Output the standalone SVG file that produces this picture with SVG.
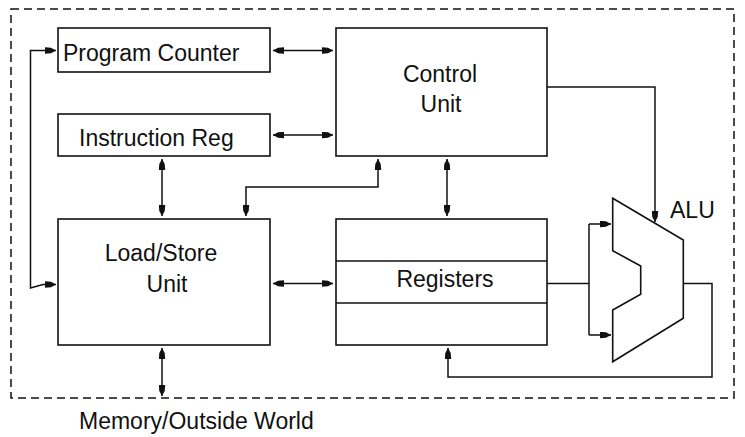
<svg xmlns="http://www.w3.org/2000/svg" width="745" height="437" viewBox="0 0 745 437">
<style>
.box{fill:#fff;stroke:#111;stroke-width:1.6}
.ln{fill:none;stroke:#111;stroke-width:1.5}
.bi{marker-start:url(#ah);marker-end:url(#ah)}
.one{marker-end:url(#ah)}
text{font-family:"Liberation Sans",Arial,sans-serif;font-size:23px;fill:#111}
.c{text-anchor:middle}
</style>
<defs>
<marker id="ah" markerUnits="userSpaceOnUse" viewBox="0 0 11 7" markerWidth="11" markerHeight="7" refX="11" refY="3.5" orient="auto-start-reverse">
<path d="M0,0.3 L6,0.8 L11,3.5 L6,6.2 L0,6.7 z" fill="#111"/>
</marker>
</defs>
<rect x="0" y="0" width="745" height="437" fill="#fff"/>
<rect id="boundary" x="11" y="9" width="723" height="389" fill="none" stroke="#111" stroke-width="1.5" stroke-dasharray="8,5"/>
<g id="connectors">
<path class="ln bi" d="M273,50.5 H333"/>
<path class="ln bi" d="M273,135 H333"/>
<path class="ln bi" d="M162,159 V216"/>
<path class="ln bi" d="M447,159 V216"/>
<path class="ln bi" d="M246,216 V187 H378 V159"/>
<path class="ln bi" d="M56,284.5 H43 L30.5,288 V50.5 H56"/>
<path class="ln bi" d="M273,283.5 H333"/>
<path class="ln bi" d="M162,348 V396"/>
<path class="ln" d="M547,283.5 H589 M589,224 V335"/>
<path class="ln one" d="M589,224 H611"/>
<path class="ln one" d="M589,335 H611"/>
<path class="ln one" d="M547,87 H655 V222"/>
<path class="ln one" d="M683,283.5 H712 V377 H448 V348"/>
</g>
<g id="program-counter">
<rect class="box" x="58" y="28" width="212" height="44"/>
<text x="63" y="61">Program Counter</text>
</g>
<g id="instruction-reg">
<rect class="box" x="58" y="114" width="212" height="42"/>
<text x="79" y="146">Instruction Reg</text>
</g>
<g id="control-unit">
<rect class="box" x="336" y="28" width="211" height="128"/>
<text class="c" x="440" y="82">Control</text>
<text class="c" x="441" y="112">Unit</text>
</g>
<g id="load-store-unit">
<rect class="box" x="58" y="219" width="212" height="126"/>
<text class="c" x="161" y="261">Load/Store</text>
<text class="c" x="167" y="292">Unit</text>
</g>
<g id="registers">
<rect class="box" x="336" y="219" width="211" height="126"/>
<line class="ln" x1="336" y1="261" x2="547" y2="261"/>
<line class="ln" x1="336" y1="303" x2="547" y2="303"/>
<text class="c" x="445" y="287">Registers</text>
</g>
<g id="alu">
<path class="box" d="M612.7,198.3 L683.3,240 V318.3 L612.7,361.7 V310 L640.7,294.3 V266 L612.7,250.7 z" stroke-width="1.3"/>
<text x="670" y="218">ALU</text>
</g>
<text id="memory-label" x="79" y="429">Memory/Outside World</text>
</svg>
